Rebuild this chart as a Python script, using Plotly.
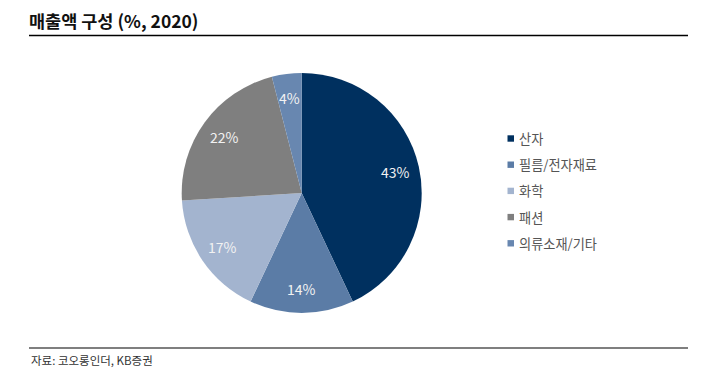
import math
import plotly.graph_objects as go

categories = ["산자", "필름/전자재료", "화학", "패션", "의류소재/기타"]
shares = [43, 14, 17, 22, 4]
colors = ["#00305f", "#5b7ca6", "#a3b4cf", "#7f7f7f", "#6887b0"]

title_text = "매출액 구성 (%, 2020)"
source_text = "자료: 코오롱인더, KB증권"

FONT = "Noto Sans CJK KR"
W, H = 712, 384
OFF = 8  # page body margin offset


def px(x):
    return (x - OFF) / W


def py(y):
    return 1 - (y - OFF) / H


# pie geometry in reference pixels
CX, CY, R = 301.7, 193.0, 120.0

fig = go.Figure()
fig.add_trace(go.Pie(
    labels=categories,
    values=shares,
    sort=False,
    direction="clockwise",
    rotation=0,
    marker=dict(colors=colors, line=dict(width=0)),
    textinfo="none",
    showlegend=False,
    hoverinfo="label+percent",
    domain=dict(x=[px(CX - R), px(CX + R)], y=[py(CY + R), py(CY - R)]),
))

shapes = [
    dict(type="line", xref="paper", yref="paper",
         x0=px(29), x1=px(688), y0=py(35.5), y1=py(35.5),
         line=dict(color="#000000", width=1.5)),
    dict(type="line", xref="paper", yref="paper",
         x0=px(29), x1=px(688), y0=py(348), y1=py(348),
         line=dict(color="#000000", width=1.2)),
]
annotations = [
    dict(text=f"<b>{title_text}</b>", xref="paper", yref="paper",
         x=px(28), y=py(20), xanchor="left", yanchor="middle", borderpad=0,
         showarrow=False, font=dict(family=FONT, size=17.5, color="#111111")),
    dict(text=source_text, xref="paper", yref="paper",
         x=px(29), y=py(360), xanchor="left", yanchor="middle",
         showarrow=False, font=dict(family=FONT, size=11.5, color="#333333")),
]

# percentage labels at the angular middle of each slice
total = sum(shares)
cum = 0
for v in shares:
    mid = (cum + v / 2) / total * 2 * math.pi
    cum += v
    r = R * 0.8
    lx = CX + r * math.sin(mid)
    ly = CY - r * math.cos(mid)
    annotations.append(dict(text=f"{v}%", xref="paper", yref="paper",
                            x=px(lx), y=py(ly), xanchor="center", yanchor="middle",
                            showarrow=False,
                            font=dict(family=FONT, size=14, color="#f2f2f2")))

# legend (drawn manually to match the compact spacing of the reference)
row0, step = 138.5, 26.2
for i, (cat, col) in enumerate(zip(categories, colors)):
    yc = row0 + i * step
    shapes.append(dict(type="rect", xref="paper", yref="paper",
                       x0=px(507.5), x1=px(514),
                       y0=py(yc + 3.2), y1=py(yc - 3.2),
                       fillcolor=col, line=dict(width=0)))
    annotations.append(dict(text=cat, xref="paper", yref="paper",
                            x=px(516.5), y=py(yc), xanchor="left", yanchor="middle",
                            showarrow=False,
                            font=dict(family=FONT, size=13.2, color="#555555")))

fig.update_layout(
    width=W, height=H,
    margin=dict(l=0, r=0, t=0, b=0),
    paper_bgcolor="white",
    plot_bgcolor="white",
    shapes=shapes,
    annotations=annotations,
)

fig.write_html("out.html")
